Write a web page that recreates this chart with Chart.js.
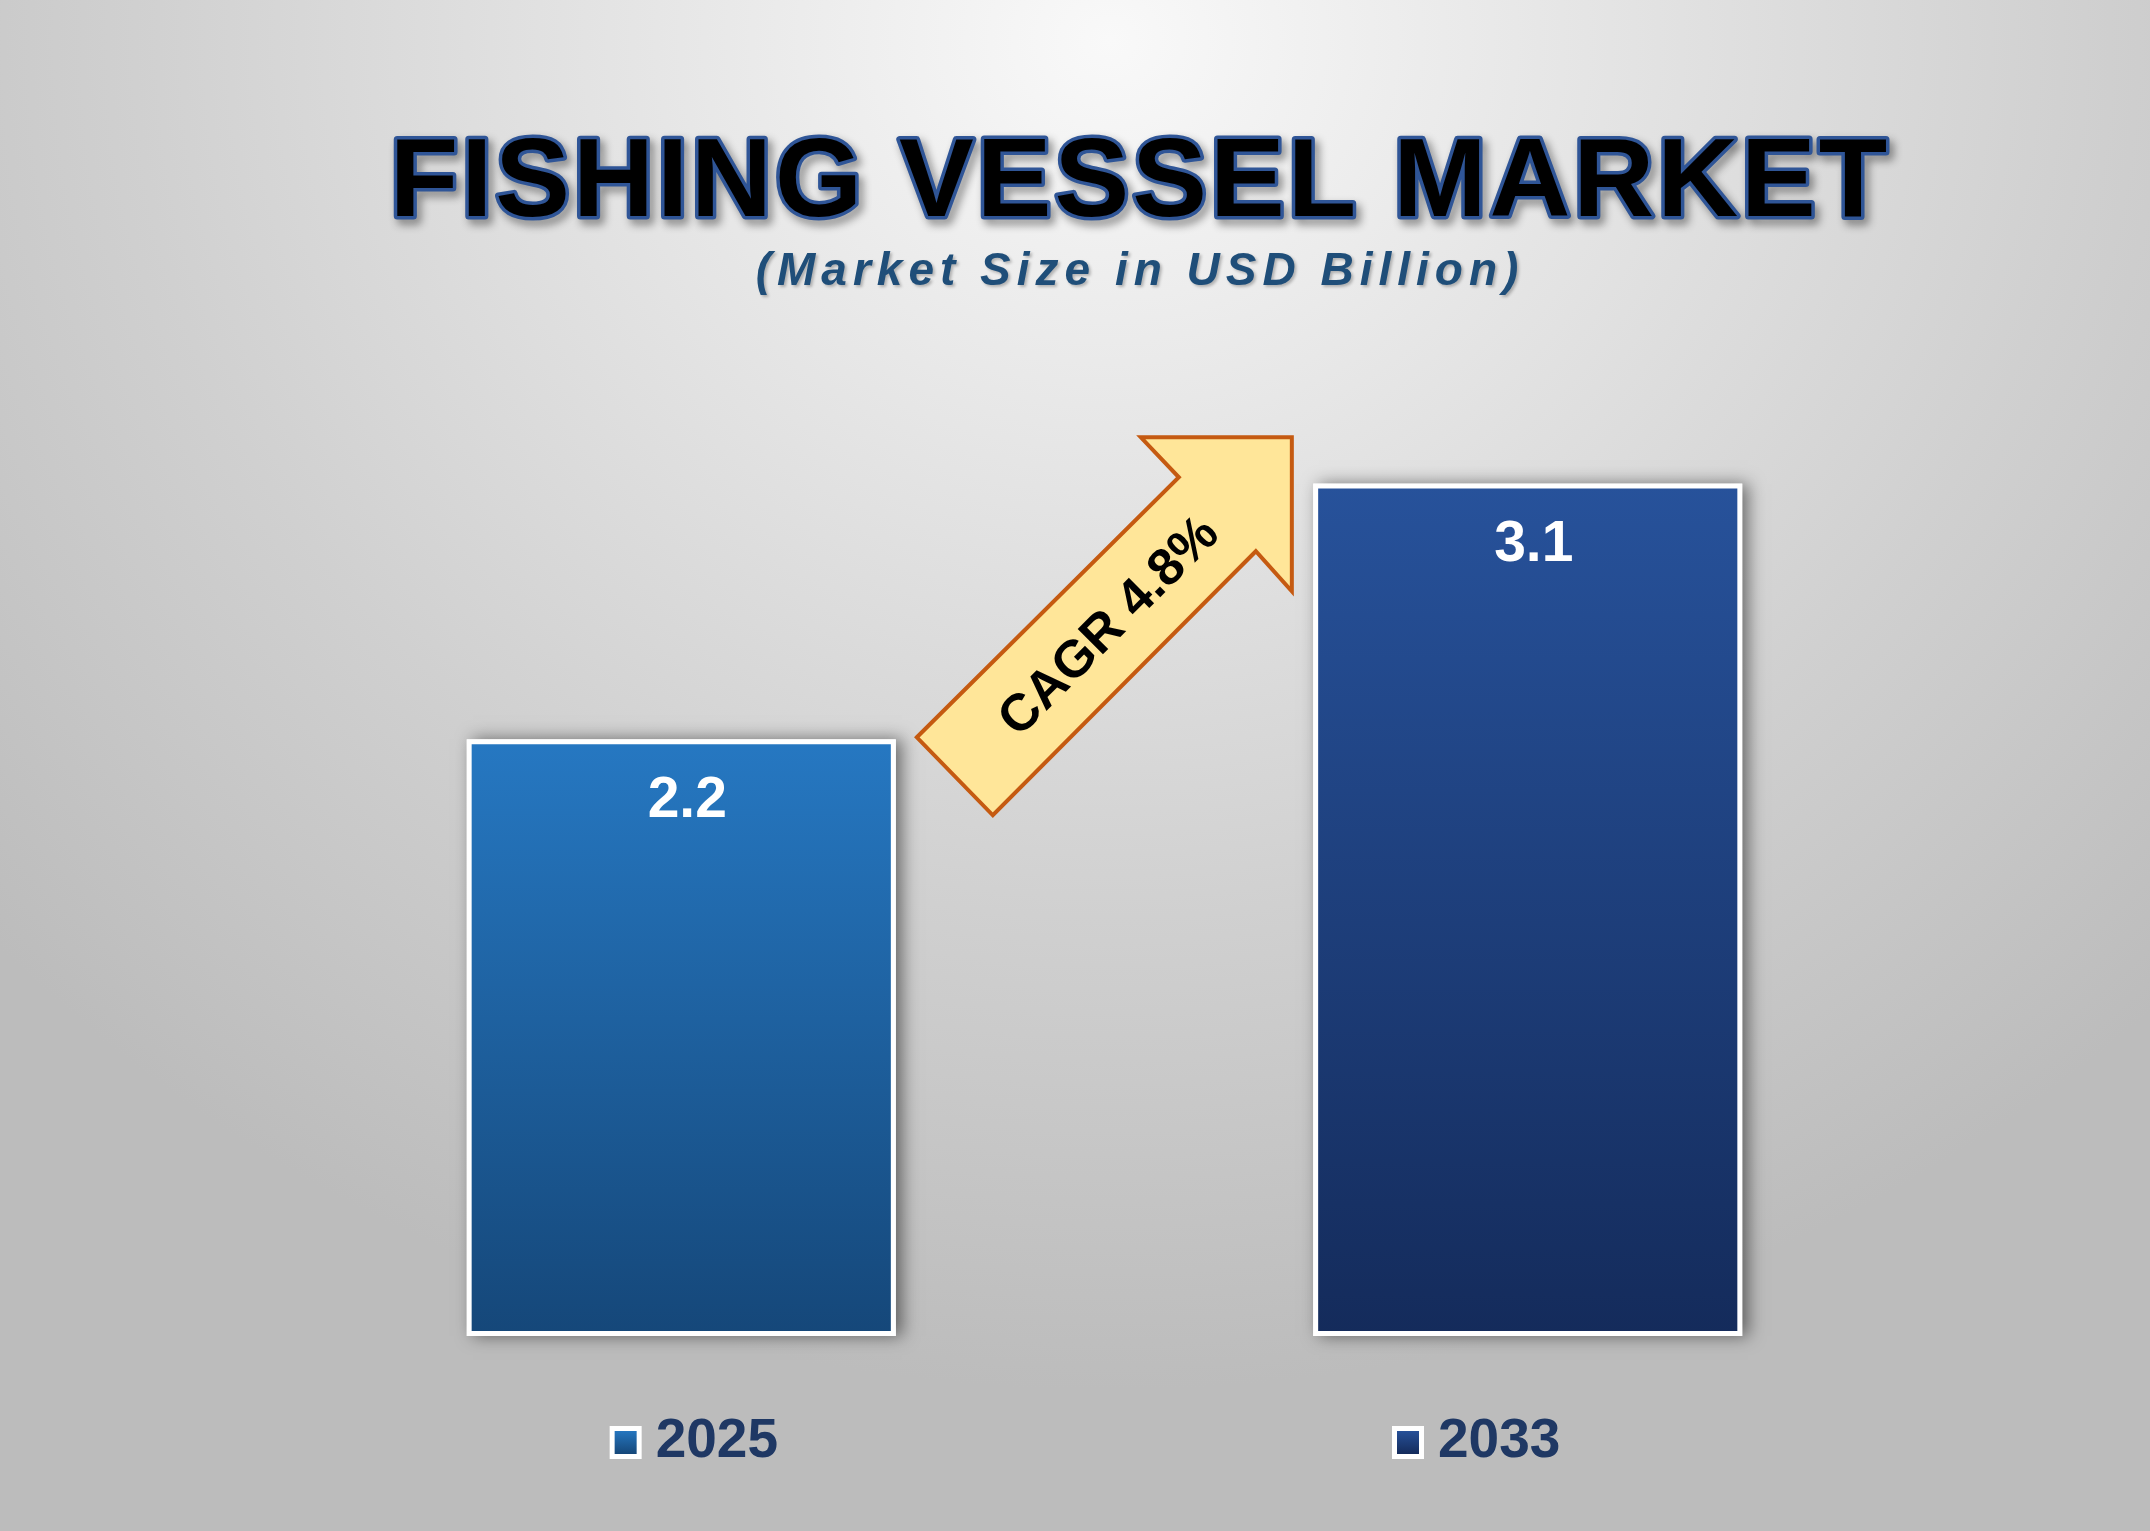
<!DOCTYPE html>
<html lang="en">
<head>
    <meta charset="UTF-8">
    <title>Fishing Vessel Market</title>
    <script src="https://cdn.jsdelivr.net/npm/chart.js"></script>
    <style>
        html, body { margin: 0; padding: 0; width: 2150px; height: 1531px; overflow: hidden; }
        body {
            background: radial-gradient(ellipse 1500px 1350px at 1110px 40px, #f9f9f9 0%, #e3e3e3 35%, #d0d0d0 65%, #bcbcbc 100%);
        }
        #wrap { position: absolute; left: 0; top: 0; width: 2150px; height: 1531px; }
    </style>
</head>
<body>
    <div id="wrap"><canvas id="marketChart" width="2150" height="1531"></canvas></div>

    <script>
        // data
        const years = ['2025', '2033'];
        const marketSize = [2.2, 3.1];
        const barTopColors = ['#2678c2', '#27529b'];
        const barBottomColors = ['#154779', '#142b5b'];
        const titleText = 'FISHING VESSEL MARKET';
        const subtitleText = '(Market Size in USD Billion)';
        const cagrText = 'CAGR 4.8%';
        const axisMin = 0.1;   // value axis does not start exactly at zero in the picture
        const axisMax = 3.95;

        const FONT = '"Liberation Sans", Arial, sans-serif';

        function barGradient(ctx, i, top, bottom) {
            const g = ctx.createLinearGradient(0, top, 0, bottom);
            g.addColorStop(0, barTopColors[i]);
            g.addColorStop(1, barBottomColors[i]);
            return g;
        }

        // shadow behind the bars
        const barShadow = {
            id: 'barShadow',
            beforeDatasetsDraw(chart) {
                const ctx = chart.ctx;
                const bars = chart.getDatasetMeta(0).data;
                ctx.save();
                ctx.shadowColor = 'rgba(0,0,0,0.5)';
                ctx.shadowBlur = 16;
                ctx.shadowOffsetX = 6;
                ctx.shadowOffsetY = 0;
                ctx.fillStyle = '#ffffff';
                bars.forEach(b => {
                    ctx.fillRect(b.x - b.width / 2, b.y, b.width, b.base - b.y);
                });
                ctx.restore();
            }
        };

        // value labels, CAGR arrow, title and legend
        const decorations = {
            id: 'decorations',
            afterDatasetsDraw(chart) {
                const ctx = chart.ctx;
                const bars = chart.getDatasetMeta(0).data;

                // value labels inside bar tops
                ctx.save();
                ctx.fillStyle = '#ffffff';
                ctx.font = 'bold 57px ' + FONT;
                ctx.textAlign = 'center';
                ctx.textBaseline = 'middle';
                bars.forEach((b, i) => {
                    ctx.fillText(marketSize[i].toFixed(1), b.x + 6, b.y + 62);
                });
                ctx.restore();

                // arrow between bars
                const a = bars[0];
                const ox = a.x + a.width / 2 + 21;
                const oy = a.y;
                const pts = [[0, -2], [262, -262], [224, -302], [375, -302], [375, -148], [339, -188], [76, 76]];
                ctx.save();
                ctx.beginPath();
                pts.forEach((p, i) => {
                    if (i === 0) ctx.moveTo(ox + p[0], oy + p[1]);
                    else ctx.lineTo(ox + p[0], oy + p[1]);
                });
                ctx.closePath();
                ctx.fillStyle = '#ffe699';
                ctx.fill();
                ctx.lineWidth = 4;
                ctx.lineJoin = 'miter';
                ctx.strokeStyle = '#c55a11';
                ctx.stroke();

                ctx.translate(ox + 193, oy - 112);
                ctx.rotate(-Math.PI / 4);
                ctx.fillStyle = '#000000';
                ctx.font = 'bold 52px ' + FONT;
                ctx.textAlign = 'center';
                ctx.textBaseline = 'middle';
                ctx.fillText(cagrText, 0, 0);
                ctx.restore();
            },
            afterDraw(chart) {
                const ctx = chart.ctx;

                // title with blue outline and shadow
                ctx.save();
                ctx.font = 'bold 112px ' + FONT;
                ctx.letterSpacing = '3px';
                ctx.textAlign = 'center';
                ctx.textBaseline = 'middle';
                ctx.lineJoin = 'round';
                ctx.shadowColor = 'rgba(0,0,0,0.45)';
                ctx.shadowBlur = 8;
                ctx.shadowOffsetX = 4;
                ctx.shadowOffsetY = 5;
                ctx.lineWidth = 7;
                ctx.strokeStyle = '#2f5597';
                ctx.strokeText(titleText, 1140, 185);
                ctx.shadowColor = 'transparent';
                ctx.fillStyle = '#000000';
                ctx.fillText(titleText, 1140, 185);

                // subtitle
                ctx.font = 'italic bold 46px ' + FONT;
                ctx.letterSpacing = '6px';
                ctx.fillStyle = '#1f4e79';
                ctx.shadowColor = 'rgba(0,0,0,0.25)';
                ctx.shadowBlur = 3;
                ctx.shadowOffsetX = 2;
                ctx.shadowOffsetY = 2;
                ctx.fillText(subtitleText, 1140, 272);
                ctx.restore();

                // legend
                ctx.save();
                ctx.font = 'bold 55px ' + FONT;
                ctx.textBaseline = 'middle';
                ctx.textAlign = 'left';
                const box = 32, gapBox = 14, gapItems = 614;
                const widths = years.map(y => box + gapBox + ctx.measureText(y).width);
                const total = widths[0] + gapItems + widths[1];
                let x = 1085 - total / 2;
                const cy = 1442;
                years.forEach((y, i) => {
                    ctx.fillStyle = '#ffffff';
                    ctx.fillRect(x, cy - 16, box, 33);
                    ctx.fillStyle = barGradient(ctx, i, cy - 12, cy + 12);
                    ctx.fillRect(x + 5, cy - 11, box - 10, 23);
                    ctx.fillStyle = '#1f3864';
                    ctx.fillText(y, x + box + gapBox, cy);
                    x += widths[i] + gapItems;
                });
                ctx.restore();
            }
        };

        const ctx = document.getElementById('marketChart').getContext('2d');
        new Chart(ctx, {
            type: 'bar',
            data: {
                labels: years,
                datasets: [{
                    label: 'Market Size',
                    data: marketSize,
                    base: axisMin,
                    backgroundColor: function (c) {
                        const chart = c.chart;
                        if (!chart.chartArea) return barTopColors[c.dataIndex];
                        const ys = chart.scales.y;
                        return barGradient(chart.ctx, c.dataIndex,
                            ys.getPixelForValue(marketSize[c.dataIndex]), ys.getPixelForValue(axisMin));
                    },
                    borderColor: '#ffffff',
                    borderWidth: 5,
                    borderSkipped: false,
                    barPercentage: 0.507,
                    categoryPercentage: 1.0
                }]
            },
            options: {
                responsive: false,
                animation: false,
                devicePixelRatio: 1,
                layout: { padding: { left: 258, right: 199, top: 242, bottom: 195 } },
                plugins: {
                    legend: { display: false },
                    tooltip: { enabled: false }
                },
                scales: {
                    x: { display: false },
                    y: { display: false, beginAtZero: false, min: axisMin, max: axisMax }
                }
            },
            plugins: [barShadow, decorations]
        });
    </script>
</body>
</html>
